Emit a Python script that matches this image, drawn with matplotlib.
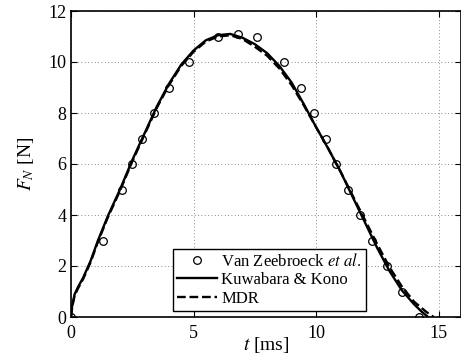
import matplotlib
matplotlib.use("Agg")
import matplotlib.pyplot as plt

plt.rcParams['font.family'] = ['Liberation Serif', 'DejaVu Serif']
plt.rcParams['mathtext.fontset'] = 'stix'

# measured points (Van Zeebroeck et al.)
t_exp = [0, 1.3, 2.1, 2.5, 2.9, 3.4, 4.0, 4.8, 6.0, 6.8, 7.6, 8.7, 9.4, 9.9, 10.4, 10.8,
         11.3, 11.8, 12.3, 12.9, 13.5, 14.2]
f_exp = [0, 3, 5, 6, 7, 8, 9, 10, 11, 11.1, 11.0, 10, 9, 8, 7, 6,
         5, 4, 3, 2, 1, 0]

# Kuwabara & Kono
t_kk = [0, 0.05, 0.15, 0.3, 0.5, 0.8, 1.1, 1.5, 2.0, 2.5, 3.0, 3.5, 4.0, 4.5, 5.0, 5.5,
        6.0, 6.5, 7.0, 7.5, 8.0, 8.5, 9.0, 9.5, 10.0, 10.5, 11.0, 11.5, 12.0, 12.5,
        13.0, 13.5, 14.0, 14.3, 14.57]
f_kk = [0, 0.45, 0.9, 1.2, 1.55, 2.2, 3.0, 3.95, 5.0, 6.15, 7.2, 8.25, 9.15, 9.9, 10.45,
        10.85, 11.05, 11.1, 10.95, 10.7, 10.35, 9.85, 9.2, 8.35, 7.45, 6.6, 5.7, 4.7,
        3.7, 2.7, 1.8, 1.05, 0.5, 0.22, 0]

# MDR
t_mdr = [0, 0.05, 0.15, 0.3, 0.5, 0.8, 1.1, 1.5, 2.0, 2.5, 3.0, 3.5, 4.0, 4.5, 5.0, 5.5,
         6.0, 6.5, 7.0, 7.5, 8.0, 8.5, 9.0, 9.5, 10.0, 10.5, 11.0, 11.5, 12.0, 12.5,
         13.0, 13.5, 14.0, 14.5, 14.8]
f_mdr = [0, 0.4, 0.85, 1.15, 1.5, 2.15, 2.95, 3.9, 4.95, 6.1, 7.15, 8.2, 9.1, 9.85, 10.4,
         10.8, 11.0, 11.05, 10.9, 10.6, 10.25, 9.75, 9.1, 8.3, 7.45, 6.6, 5.7, 4.75,
         3.8, 2.85, 1.95, 1.2, 0.6, 0.2, 0]

fig = plt.figure(figsize=(4.61, 3.57), dpi=100)
ax = fig.add_axes([71/461, 40/357, 389.6/461, 306/357])

ax.plot(t_exp, f_exp, 'o', mfc='none', mec='k', ms=5.5, mew=0.9, label='Van Zeebroeck $et\\ al.$')
ax.plot(t_kk, f_kk, 'k-', lw=1.7, label='Kuwabara & Kono')
ax.plot(t_mdr, f_mdr, 'k--', lw=1.7, label='MDR')

ax.set_xlim(0, 15.9)
ax.set_ylim(0, 12)
ax.set_xticks([0, 5, 10, 15])
ax.set_yticks([0, 2, 4, 6, 8, 10, 12])
ax.grid(True, linestyle=(0, (1, 3)), color='k', lw=0.6, alpha=0.6)
ax.tick_params(direction='in', top=True, right=True, labelsize=13, length=4, width=0.8)
ax.tick_params(axis='x', pad=6)
for s in ax.spines.values():
    s.set_linewidth(1.2)

ax.set_xlabel('$t$ [ms]', fontsize=14, labelpad=-5)
ax.set_ylabel('$F_N$ [N]', fontsize=14, labelpad=9)

leg = ax.legend(loc='lower left', bbox_to_anchor=(0.262, 0.02), borderaxespad=0,
                fontsize=12, fancybox=False, edgecolor='k', framealpha=1,
                handlelength=2.4, handletextpad=0.25, labelspacing=0.15, borderpad=0.25)
leg.get_frame().set_linewidth(1.0)

fig.savefig('out.png', dpi=100)
